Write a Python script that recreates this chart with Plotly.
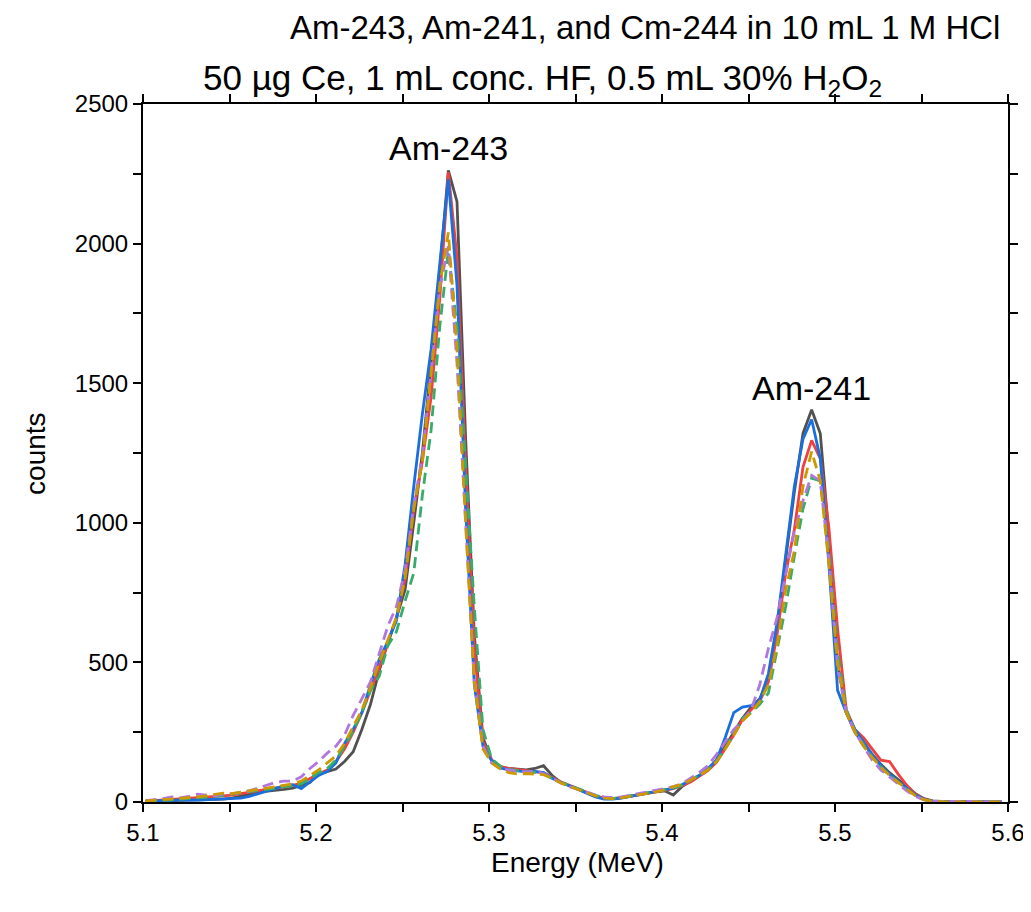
import plotly.graph_objects as go

# channel energies (MeV)
energy = [
    5.1015, 5.1065, 5.1115, 5.1165, 5.1215, 5.1265, 5.1315, 5.1365, 5.1415, 5.1465,
    5.1515, 5.1565, 5.1615, 5.1665, 5.1715, 5.1765, 5.1815, 5.1865, 5.1915, 5.1965,
    5.2015, 5.2065, 5.2115, 5.2165, 5.2215, 5.2265, 5.2315, 5.2365, 5.2415, 5.2465,
    5.2515, 5.2565, 5.2615, 5.2665, 5.2715, 5.2765, 5.2815, 5.2865, 5.2915, 5.2965,
    5.3015, 5.3065, 5.3115, 5.3165, 5.3215, 5.3265, 5.3315, 5.3365, 5.3415, 5.3465,
    5.3515, 5.3565, 5.3615, 5.3665, 5.3715, 5.3765, 5.3815, 5.3865, 5.3915, 5.3965,
    5.4015, 5.4065, 5.4115, 5.4165, 5.4215, 5.4265, 5.4315, 5.4365, 5.4415, 5.4465,
    5.4515, 5.4565, 5.4615, 5.4665, 5.4715, 5.4765, 5.4815, 5.4865, 5.4915, 5.4965,
    5.5015, 5.5065, 5.5115, 5.5165, 5.5215, 5.5265, 5.5315, 5.5365, 5.5415, 5.5465,
    5.5515, 5.5565, 5.5615, 5.5665, 5.5715, 5.5765, 5.5815, 5.5865, 5.5915, 5.5965,
]

counts_gray = [
    2, 3, 4, 5, 6, 7, 8, 8, 9, 10, 14, 20, 28, 35, 38, 40, 45, 50, 60, 70,
    100, 108, 118, 145, 180, 260, 350, 470, 570, 660, 760,
    1000, 1250, 1570, 1900, 2262, 2150, 1300, 600, 230,
    150, 125, 120, 118, 115, 120, 130, 95, 70, 58, 45, 32, 20, 14, 12, 16, 22, 28, 32, 36,
    40, 25, 55, 75, 95, 115, 150, 200, 250, 300,
    340, 370, 440, 620, 870, 1110, 1320, 1405, 1320, 950, 500, 320, 250, 210, 170,
    135, 105, 80, 55, 30, 12, 4, 2, 1, 0, 0, 0, 0, 0, 0,
]
counts_red = [
    3, 5, 6, 8, 10, 12, 15, 18, 20, 22, 25, 30, 35, 40, 45, 50, 55, 60, 68, 85,
    100, 115, 145, 190, 250, 320, 400, 480, 570, 660, 800,
    1050, 1220, 1450, 1800, 2255, 1950, 1200, 550, 215,
    150, 128, 120, 115, 112, 108, 105, 88, 72, 60, 48, 35, 22, 14, 12, 15, 20, 26, 30, 36,
    42, 48, 58, 72, 92, 112, 142, 190, 240, 295,
    330, 360, 430, 600, 820, 975, 1200, 1295, 1230, 980, 620, 330, 260, 230, 190,
    150, 145, 100, 60, 28, 9, 3, 1, 1, 0, 0, 0, 0, 0, 0,
]
counts_blue = [
    3, 4, 5, 6, 8, 8, 7, 8, 9, 10, 12, 14, 20, 30, 40, 50, 58, 62, 48, 72,
    95, 110, 140, 210, 260, 320, 420, 510, 575, 650, 850,
    1130, 1390, 1620, 1935, 2230, 1850, 1050, 420, 200,
    148, 122, 115, 112, 108, 110, 105, 85, 70, 58, 45, 30, 18, 10, 10, 14, 20, 28, 32, 38,
    45, 50, 62, 80, 95, 120, 150, 230, 320, 340,
    345, 365, 460, 640, 880, 1130, 1300, 1370, 1230, 850, 400, 320, 260, 215, 170,
    130, 100, 75, 50, 25, 8, 3, 1, 0, 0, 0, 0, 0, 0, 0,
]
counts_green = [
    3, 4, 6, 8, 10, 12, 14, 16, 20, 24, 28, 32, 36, 40, 45, 50, 55, 58, 65, 85,
    105, 120, 150, 200, 255, 320, 400, 450, 560, 610, 720,
    820, 1100, 1330, 1700, 1975, 1700, 1200, 700, 260,
    155, 128, 118, 112, 110, 106, 100, 85, 70, 60, 48, 36, 24, 15, 13, 16, 22, 28, 32, 38,
    44, 50, 60, 78, 95, 115, 145, 190, 245, 300,
    320, 350, 390, 540, 700, 880, 1050, 1160, 1150, 900, 540, 330, 255, 205, 160,
    125, 95, 70, 45, 22, 8, 3, 1, 0, 0, 0, 0, 0, 0, 0,
]
counts_purple = [
    5, 8, 12, 18, 15, 20, 28, 25, 22, 28, 30, 35, 40, 50, 60, 70, 75, 75, 90, 120,
    145, 175, 200, 240, 310, 370, 430, 530, 630, 700, 830,
    1060, 1240, 1540, 1840, 1990, 1570, 1000, 440, 200,
    140, 120, 115, 110, 108, 110, 102, 85, 68, 55, 45, 35, 25, 18, 16, 18, 24, 30, 34, 40,
    48, 55, 65, 85, 105, 130, 170, 215, 260, 290,
    330, 420, 550, 660, 820, 970, 1080, 1170, 1150, 870, 480, 320, 250, 200, 150,
    115, 90, 65, 40, 20, 8, 3, 1, 2, 3, 2, 1, 0, 0, 0,
]
counts_gold = [
    4, 6, 8, 10, 12, 15, 18, 22, 28, 32, 30, 35, 42, 45, 50, 55, 60, 65, 75, 95,
    115, 140, 165, 210, 270, 330, 410, 500, 580, 660, 800,
    1050, 1220, 1530, 1850, 2040, 1620, 1000, 430, 190,
    140, 118, 105, 100, 102, 100, 98, 85, 68, 56, 44, 32, 22, 14, 12, 15, 20, 26, 30, 36,
    44, 55, 62, 78, 95, 115, 145, 190, 240, 290,
    320, 360, 420, 560, 760, 900, 1130, 1255, 1150, 850, 500, 320, 250, 200, 160,
    125, 95, 70, 45, 22, 8, 3, 1, 0, 0, 0, 0, 0, 0, 0,
]

x_tick_vals = [5.1, 5.2, 5.3, 5.4, 5.5, 5.6]
x_tick_text = ["5.1", "5.2", "5.3", "5.4", "5.5", "5.6"]
y_tick_vals = [0, 500, 1000, 1500, 2000, 2500]
y_tick_text = ["0", "500", "1000", "1500", "2000", "2500"]

title_text = "Am-243, Am-241, and Cm-244 in 10 mL 1 M HCl"
subtitle_text = "50 µg Ce, 1 mL conc. HF, 0.5 mL 30% H<sub>2</sub>O<sub>2</sub>"
peak_labels = ["Am-243", "Am-241"]
peak_label_x = [5.2763, 5.4867]
peak_label_y = [2342, 1483]

FONT = "Liberation Sans, Arial, sans-serif"

series = [
    (counts_gray, "#515151", "solid"),
    (counts_red, "#F14040", "solid"),
    (counts_blue, "#1A6FDF", "solid"),
    (counts_green, "#37AD6B", "11px,6px"),
    (counts_purple, "#B177DE", "11px,6px"),
    (counts_gold, "#CC9900", "11px,6px"),
]

fig = go.Figure()
for ys, col, dash in series:
    fig.add_trace(go.Scatter(x=energy, y=ys, mode="lines",
                             line=dict(color=col, width=2.8, dash=dash),
                             showlegend=False))

axis_common = dict(showline=True, linecolor="black", linewidth=2, mirror="ticks",
                   ticks="outside", ticklen=8, tickwidth=2, tickcolor="black",
                   showgrid=False, zeroline=False,
                   tickfont=dict(family=FONT, size=24, color="black"))

fig.update_xaxes(range=[5.1, 5.6], tickmode="array", tickvals=x_tick_vals,
                 ticktext=x_tick_text,
                 minor=dict(dtick=0.05, ticks="outside", ticklen=8, tickwidth=2,
                            tickcolor="black", showgrid=False),
                 **axis_common)
fig.update_yaxes(range=[0, 2500], tickmode="array", tickvals=y_tick_vals,
                 ticktext=y_tick_text,
                 minor=dict(dtick=250, ticks="outside", ticklen=8, tickwidth=2,
                            tickcolor="black", showgrid=False),
                 **axis_common)

def paper_label(text, x, y, size, angle=0):
    return dict(text=text, xref="paper", yref="paper", x=x, y=y, textangle=angle,
                xanchor="center", yanchor="middle", showarrow=False,
                font=dict(family=FONT, size=size, color="black"))

annotations = [
    paper_label(title_text, 0.580, 1.110, 33),
    paper_label(subtitle_text, 0.462, 1.034, 35),
    paper_label("Energy (MeV)", 0.502, -0.087, 28),
    paper_label("counts", -0.125, 0.5, 28, angle=-90),
]
for lab, lx, ly in zip(peak_labels, peak_label_x, peak_label_y):
    annotations.append(dict(text=lab, x=lx, y=ly, xref="x", yref="y", showarrow=False,
                            xanchor="center", yanchor="middle",
                            font=dict(family=FONT, size=34, color="black")))

# the page adds an 8 px body margin, so the figure is sized to leave room for it
fig.update_layout(width=1023, height=904, paper_bgcolor="white", plot_bgcolor="white",
                  margin=dict(l=135, r=23, t=96, b=110, autoexpand=False),
                  annotations=annotations, font=dict(family=FONT))

fig.write_html("out.html")
